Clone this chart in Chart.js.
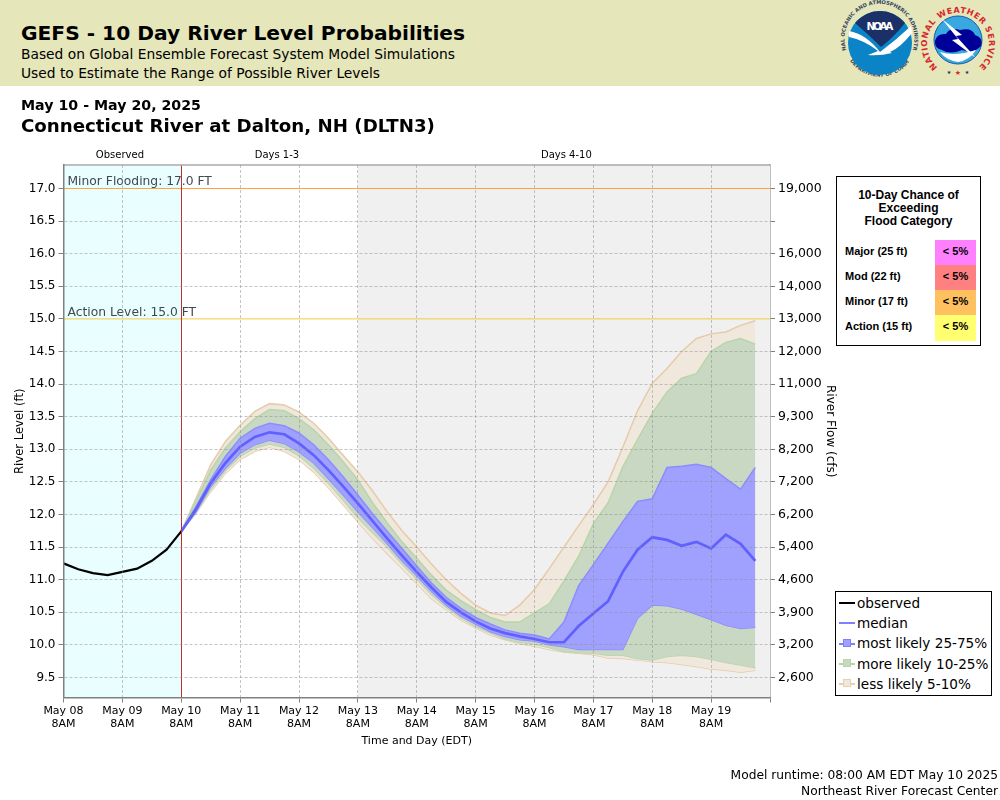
<!DOCTYPE html>
<html>
<head>
<meta charset="utf-8">
<title>GEFS - 10 Day River Level Probabilities</title>
<script src="https://cdn.jsdelivr.net/npm/chart.js@4/dist/chart.umd.min.js"></script>
<style>
  html, body { margin: 0; background: #fff; font-family: "DejaVu Sans", sans-serif; color: #000; }
  #page { position: relative; width: 1000px; height: 800px; overflow: hidden; }
  #page > canvas { position: absolute; left: 0; top: 0; }
  .txt { position: absolute; white-space: nowrap; }
  #banner { position: absolute; left: 0; top: 0; width: 1000px; height: 86px; background: #e5e6b9; }
  #floodBox { position: absolute; left: 836px; top: 176px; width: 143px; height: 168px; border: 1px solid #000; background: #fff;
    font-family: "Liberation Sans", Arial, sans-serif; font-weight: bold; }
  #floodBox .head { position: absolute; left: 0; width: 143px; top: 12px; text-align: center; font-size: 12px; line-height: 13px; }
  #floodBox .row { position: absolute; left: 8px; font-size: 11px; }
  #floodBox .pct { position: absolute; left: 98px; width: 41px; height: 25px; line-height: 23px; text-align: center; font-size: 11px; }
  #legendBox { position: absolute; left: 835px; top: 591px; width: 155px; height: 103px; border: 1px solid #000; background: #fff; font-size: 13.6px; }
  #legendBox .item { position: absolute; left: 21px; line-height: 20px; white-space: nowrap; }
  #legendBox .ln { position: absolute; left: 3px; width: 16px; height: 2px; }
  #legendBox .sq { position: absolute; left: 7px; width: 6px; height: 6px; border: 1px solid; }
</style>
</head>
<body>
<div id="page">
  <canvas id="chart" width="1000" height="800"></canvas>

  <div id="banner">
    <div class="txt" style="left:21px;top:21px;font-size:20.2px;font-weight:bold">GEFS - 10 Day River Level Probabilities</div>
    <div class="txt" style="left:21px;top:46px;font-size:13.8px">Based on Global Ensemble Forecast System Model Simulations</div>
    <div class="txt" style="left:21px;top:65px;font-size:13.8px">Used to Estimate the Range of Possible River Levels</div>

    <!-- rough redraw of the two agency logos -->
    <svg style="position:absolute;left:840px;top:0" width="160" height="86" viewBox="840 0 160 86">
      <defs>
        <path id="noaaTop" d="M 846 49 A 35 35 0 1 1 913 49"/>
        <path id="noaaBot" d="M 851 62 A 36 36 0 0 0 909 62"/>
        <path id="nwsRing" d="M 940 69 A 31 31 0 1 1 976 69"/>
      </defs>
      <text font-size="5.2" font-weight="bold" fill="#33435f"><textPath href="#noaaTop" startOffset="50%" text-anchor="middle">NATIONAL OCEANIC AND ATMOSPHERIC ADMINISTRATION</textPath></text>
      <text font-size="5.2" font-weight="bold" fill="#33435f"><textPath href="#noaaBot" startOffset="50%" text-anchor="middle">U.S. DEPARTMENT OF COMMERCE</textPath></text>
      <circle cx="880" cy="43" r="32" fill="#0a84c6"/>
      <path d="M 855 23 A 32 32 0 0 1 905 23 Q 893 38 881 47 Q 868 34 855 23 Z" fill="#1c3068"/>
      <path d="M 849 31 Q 866 34 880 52 Q 896 40 911 26 L 912 33 Q 900 48 890 52 L 892 53 Q 880 56 868 55 L 878 51 Q 864 40 849 37 Z" fill="#fff"/>
      <text x="880" y="30" font-size="10.5" font-weight="bold" fill="#fff" text-anchor="middle" textLength="27">NOAA</text>

      <text font-size="8.2" font-weight="bold" fill="#d8262c" letter-spacing="0.6"><textPath href="#nwsRing" startOffset="50%" text-anchor="middle">NATIONAL WEATHER SERVICE</textPath></text>
      <circle cx="958" cy="40" r="24" fill="#38a8e0" stroke="#1c5aa8" stroke-width="1"/>
      <path d="M 935 41 Q 937 33 946 34 Q 950 27 960 30 Q 972 27 975 35 Q 984 38 981 46 Q 974 54 962 50 Q 950 55 942 50 Q 934 48 935 41 Z" fill="#000099"/>
      <path d="M 940 52 Q 955 57 976 50 Q 970 60 958 62 Q 946 60 940 52 Z" fill="#fff"/>
      <path d="M 942 19 L 962 35 L 956 36 L 976 58 L 952 40 L 958 39 Z" fill="#fff"/>
      <text x="958" y="75" font-size="7" fill="#d8262c" text-anchor="middle">&#9733;</text>
      <text x="949" y="74" font-size="5" fill="#1c3068" text-anchor="middle">&#9733;</text>
      <text x="967" y="74" font-size="5" fill="#1c3068" text-anchor="middle">&#9733;</text>
    </svg>
  </div>

  <div class="txt" style="left:21px;top:97px;font-size:14.2px;font-weight:bold">May 10 - May 20, 2025</div>
  <div class="txt" style="left:21px;top:115px;font-size:18.2px;font-weight:bold">Connecticut River at Dalton, NH (DLTN3)</div>

  <div id="floodBox">
    <div class="head">10-Day Chance of<br>Exceeding<br>Flood Category</div>
    <div class="row" style="top:68px">Major (25 ft)</div>
    <div class="row" style="top:93px">Mod (22 ft)</div>
    <div class="row" style="top:118px">Minor (17 ft)</div>
    <div class="row" style="top:143px">Action (15 ft)</div>
    <div class="pct" style="top:63px;background:#ff80ff">&lt; 5%</div>
    <div class="pct" style="top:88px;background:#ff8080">&lt; 5%</div>
    <div class="pct" style="top:113px;background:#ffc060">&lt; 5%</div>
    <div class="pct" style="top:138px;height:26px;background:#ffff70">&lt; 5%</div>
  </div>

  <div id="legendBox">
    <div class="ln" style="top:10px;background:#000"></div><div class="item" style="top:1px">observed</div>
    <div class="ln" style="top:30px;background:#8080ff"></div><div class="item" style="top:21px">median</div>
    <div class="ln" style="top:51px;background:#8080ff"></div><div class="sq" style="top:47px;background:#a0a0ff;border-color:#8080ff"></div><div class="item" style="top:41px">most likely 25-75%</div>
    <div class="ln" style="top:71px;background:#b5d5a5"></div><div class="sq" style="top:67px;background:#c9d8c3;border-color:#b5d5a5"></div><div class="item" style="top:62px">more likely 10-25%</div>
    <div class="ln" style="top:91px;background:#e8cfb0"></div><div class="sq" style="top:87px;background:#f0e8dc;border-color:#e8cfb0"></div><div class="item" style="top:82px">less likely 5-10%</div>
  </div>

  <div class="txt" style="right:2px;top:768px;font-size:12.25px">Model runtime: 08:00 AM EDT May 10 2025</div>
  <div class="txt" style="right:2px;top:784px;font-size:12.25px">Northeast River Forecast Center</div>
</div>

<script>
// hours since May 08 8AM
const observedHours = [0, 6, 12, 18, 24, 30, 36, 42, 48];
const forecastHours = [48, 54, 60, 66, 72, 78, 84, 90, 96, 102, 108, 114, 120, 126, 132, 138, 144, 150, 156, 162,
  168, 174, 180, 186, 192, 198, 204, 210, 216, 222, 228, 234, 240, 246, 252, 258, 264, 270, 276, 282];

const observed = [11.25, 11.16, 11.10, 11.07, 11.12, 11.17, 11.29, 11.46, 11.74];
const median = [11.74, 12.08, 12.48, 12.79, 13.04, 13.19, 13.26, 13.23, 13.09, 12.91, 12.68, 12.43, 12.17, 11.90, 11.63, 11.37, 11.12, 10.88, 10.66, 10.50,
  10.36, 10.25, 10.18, 10.13, 10.09, 10.04, 10.04, 10.29, 10.48, 10.67, 11.12, 11.46, 11.65, 11.61, 11.52, 11.58, 11.48, 11.69, 11.55, 11.29];

// most likely 25-75%
const p75 = [11.74, 12.12, 12.53, 12.89, 13.17, 13.32, 13.40, 13.36, 13.25, 13.07, 12.84, 12.58, 12.30, 12.01, 11.74, 11.48, 11.21, 10.95, 10.73, 10.56,
  10.42, 10.32, 10.23, 10.18, 10.15, 10.09, 10.35, 10.91, 11.23, 11.56, 11.89, 12.20, 12.24, 12.72, 12.74, 12.77, 12.72, 12.55, 12.39, 12.72];
const p25 = [11.74, 12.04, 12.43, 12.71, 12.94, 13.07, 13.14, 13.09, 12.96, 12.79, 12.55, 12.30, 12.04, 11.80, 11.55, 11.29, 11.06, 10.82, 10.61, 10.44,
  10.32, 10.20, 10.13, 10.08, 10.06, 10.00, 9.97, 9.93, 9.93, 9.93, 9.93, 10.41, 10.61, 10.60, 10.55, 10.47, 10.39, 10.30, 10.25, 10.27];

// more likely 10-25%
const p90 = [11.74, 12.20, 12.68, 13.02, 13.27, 13.47, 13.61, 13.59, 13.47, 13.30, 13.07, 12.81, 12.53, 12.18, 11.87, 11.58, 11.33, 11.07, 10.84, 10.68,
  10.54, 10.42, 10.35, 10.35, 10.49, 10.63, 10.98, 11.36, 11.86, 12.18, 12.73, 13.15, 13.55, 13.88, 14.09, 14.16, 14.50, 14.64, 14.70, 14.61];
const p10 = [11.74, 12.03, 12.39, 12.67, 12.89, 13.02, 13.08, 13.03, 12.90, 12.71, 12.48, 12.22, 11.95, 11.72, 11.50, 11.24, 11.01, 10.77, 10.58, 10.41,
  10.28, 10.18, 10.09, 10.04, 10.01, 9.96, 9.90, 9.88, 9.87, 9.84, 9.84, 9.79, 9.77, 9.82, 9.84, 9.82, 9.78, 9.73, 9.69, 9.65];

// less likely 5-10%
const p95 = [11.74, 12.25, 12.76, 13.12, 13.37, 13.58, 13.70, 13.68, 13.57, 13.40, 13.17, 12.91, 12.65, 12.36, 12.04, 11.75, 11.50, 11.24, 11.00, 10.79,
  10.61, 10.49, 10.45, 10.61, 10.85, 11.17, 11.50, 11.83, 12.15, 12.50, 13.03, 13.59, 14.01, 14.24, 14.50, 14.70, 14.77, 14.80, 14.90, 14.97];
const p5 = [11.74, 12.02, 12.35, 12.63, 12.84, 12.97, 13.03, 12.97, 12.84, 12.65, 12.41, 12.15, 11.89, 11.63, 11.40, 11.17, 10.94, 10.71, 10.54, 10.38,
  10.26, 10.15, 10.08, 10.02, 9.98, 9.93, 9.89, 9.87, 9.85, 9.80, 9.79, 9.77, 9.74, 9.73, 9.70, 9.67, 9.63, 9.61, 9.58, 9.61];

const levelTicks = [9.5, 10, 10.5, 11, 11.5, 12, 12.5, 13, 13.5, 14, 14.5, 15, 15.5, 16, 16.5, 17];
const flowLabels = ['2,600', '3,200', '3,900', '4,600', '5,400', '6,200', '7,200', '8,200', '9,300', '11,000', '12,000', '13,000', '14,000', '16,000', '', '19,000'];
const dayHours = [0, 24, 48, 72, 96, 120, 144, 168, 192, 216, 240, 264, 288];
const dayLabels = ['May 08', 'May 09', 'May 10', 'May 11', 'May 12', 'May 13', 'May 14', 'May 15', 'May 16', 'May 17', 'May 18', 'May 19', ''];
const flood = [{ level: 17, name: 'Minor Flooding: 17.0 FT', color: '#ffa040' }, { level: 15, name: 'Action Level: 15.0 FT', color: '#f8c840' }];

const font11 = { family: '"DejaVu Sans", sans-serif', size: 11 };
const gridColor = 'rgba(140,140,140,0.5)';

function pts(xs, ys) {
  return xs.map((x, i) => ({ x: x, y: ys[i] }));
}

function band(data, color, line, fill) {
  return { data: pts(forecastHours, data), borderColor: line, backgroundColor: color, borderWidth: 1.5, pointRadius: 0, fill: fill };
}

// shaded periods, frame top, now line and the text sitting on the plot
const decorPlugin = {
  id: 'decor',
  beforeDatasetsDraw(c) {
    const { ctx, chartArea: a, scales: { x } } = c;
    ctx.save();
    ctx.fillStyle = '#e9ffff';
    ctx.fillRect(x.getPixelForValue(0), a.top, x.getPixelForValue(48) - x.getPixelForValue(0), a.height);
    ctx.fillStyle = '#f0f0f0';
    ctx.fillRect(x.getPixelForValue(120), a.top, x.getPixelForValue(288) - x.getPixelForValue(120), a.height);
    ctx.restore();
  },
  afterDatasetsDraw(c) {
    const { ctx, chartArea: a, scales: { x, y } } = c;
    ctx.save();
    ctx.strokeStyle = '#c03030';
    ctx.lineWidth = 1;
    ctx.beginPath();
    ctx.moveTo(Math.round(x.getPixelForValue(48)) + 0.5, a.top);
    ctx.lineTo(Math.round(x.getPixelForValue(48)) + 0.5, a.bottom);
    ctx.stroke();
    ctx.strokeStyle = '#aaaaaa';
    ctx.lineWidth = 1.5;
    ctx.beginPath();
    ctx.moveTo(x.left, a.top);
    ctx.lineTo(x.right, a.top);
    ctx.stroke();

    ctx.fillStyle = '#404850';
    ctx.font = '12.3px "DejaVu Sans", sans-serif';
    ctx.textAlign = 'left';
    ctx.textBaseline = 'alphabetic';
    flood.forEach(f => ctx.fillText(f.name, x.getPixelForValue(0) + 4, y.getPixelForValue(f.level) - 3));

    ctx.fillStyle = '#000';
    ctx.font = '10px "DejaVu Sans", sans-serif';
    ctx.textAlign = 'center';
    ctx.fillText('Observed', x.getPixelForValue(23), a.top - 7);
    ctx.fillText('Days 1-3', x.getPixelForValue(87), a.top - 7);
    ctx.fillText('Days 4-10', x.getPixelForValue(205), a.top - 7);
    ctx.restore();
  }
};

new Chart(document.getElementById('chart').getContext('2d'), {
  type: 'line',
  data: {
    datasets: [
      { data: pts(observedHours, observed), borderColor: '#000', borderWidth: 2.2, pointRadius: 0, fill: false },
      { data: pts(forecastHours, median), borderColor: '#6060ff', borderWidth: 2.7, pointRadius: 0, fill: false },
      band(p75, '#a0a0ff', '#8c8cff', '+1'),
      band(p25, '#a0a0ff', '#8c8cff', false),
      band(p90, '#c9d8c3', '#b8d5aa', '+1'),
      band(p10, '#c9d8c3', '#b8d5aa', false),
      band(p95, '#f0e8dc', '#e5cbaa', '+1'),
      band(p5, '#f0e8dc', '#e5cbaa', false),
      { data: pts([0, 288], [flood[0].level, flood[0].level]), borderColor: flood[0].color, borderWidth: 1, pointRadius: 0, fill: false },
      { data: pts([0, 288], [flood[1].level, flood[1].level]), borderColor: flood[1].color, borderWidth: 1, pointRadius: 0, fill: false }
    ]
  },
  options: {
    responsive: false,
    animation: false,
    devicePixelRatio: 1,
    layout: { padding: { top: 165, right: 160, bottom: 52, left: 0 } },
    plugins: { legend: { display: false }, title: { display: false }, tooltip: { enabled: false } },
    elements: { line: { tension: 0 } },
    scales: {
      x: {
        type: 'linear',
        min: 0,
        max: 288,
        afterFit: s => { s.height = 50.5; },
        afterBuildTicks: s => { s.ticks = dayHours.map(v => ({ value: v })); },
        ticks: {
          autoSkip: false,
          maxRotation: 0,
          color: '#000',
          padding: 2,
          font: font11,
          callback: (v, i) => dayLabels[i] ? [dayLabels[i], '8AM'] : ''
        },
        grid: {
          z: 1,
          color: ctx => [0, 48, 288].includes(ctx.tick && ctx.tick.value) ? 'transparent' : gridColor,
          tickColor: '#808080',
          tickLength: 5,
          tickBorderDash: []
        },
        // border z has to follow grid z, the border position is worked out while the grid draws
        border: { z: 1, color: '#808080', width: 1.5, dash: [3, 2] },
        title: { display: true, text: 'Time and Day (EDT)', color: '#000', font: font11, padding: { top: 5, bottom: 0 } }
      },
      y: {
        position: 'left',
        min: 9.193,
        max: 17.36,
        afterFit: s => { s.width = 63.5; },
        afterBuildTicks: s => { s.ticks = levelTicks.map(v => ({ value: v })); },
        ticks: { color: '#000', padding: 3, font: { family: '"DejaVu Sans", sans-serif', size: 12 }, callback: v => v.toFixed(1) },
        grid: {
          z: 1,
          color: ctx => [15, 17].includes(ctx.tick && ctx.tick.value) ? 'transparent' : gridColor,
          tickColor: '#808080',
          tickLength: 5,
          tickBorderDash: []
        },
        border: { z: 1, color: '#808080', width: 1.5, dash: [3, 2] },
        title: { display: true, text: 'River Level (ft)', color: '#000', font: { family: '"DejaVu Sans", sans-serif', size: 11.6 }, padding: { top: 13, bottom: 0 } }
      },
      y1: {
        position: 'right',
        min: 9.193,
        max: 17.36,
        afterFit: s => { s.width = 70; },
        afterBuildTicks: s => { s.ticks = levelTicks.map(v => ({ value: v })); },
        ticks: { color: '#000', padding: 3, font: { family: '"DejaVu Sans", sans-serif', size: 12.5 }, callback: (v, i) => flowLabels[i] },
        grid: { drawOnChartArea: false, tickColor: '#808080', tickLength: 5 },
        border: { color: '#808080', width: 1.5 },
        title: { display: true, text: 'River Flow (cfs)', color: '#000', font: { family: '"DejaVu Sans", sans-serif', size: 12 }, padding: { top: 3, bottom: 0 } }
      }
    }
  },
  plugins: [decorPlugin]
});
</script>
</body>
</html>
